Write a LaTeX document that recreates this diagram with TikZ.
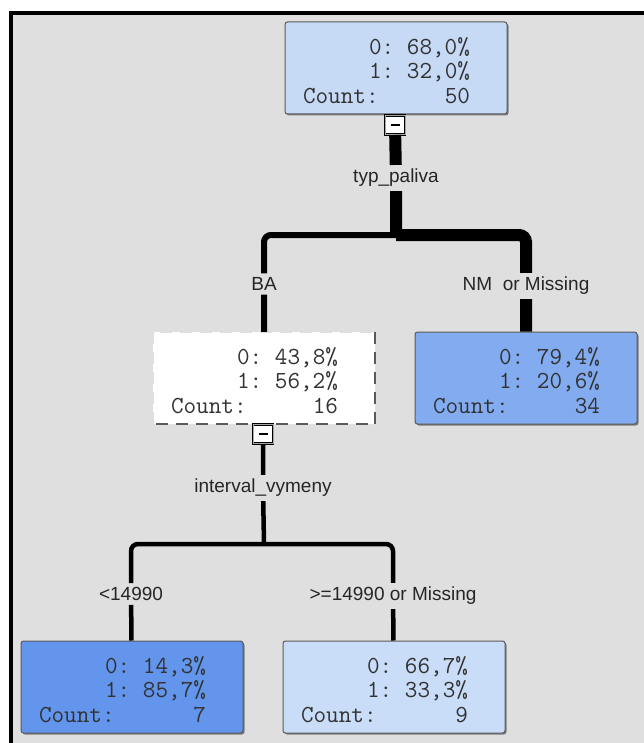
\documentclass[tikz,border=0pt]{standalone}
\usepackage{fontspec}
\newfontfamily\labelfont{Liberation Sans}
\usetikzlibrary{shadows}
\definecolor{panelgray}{RGB}{223,223,223}
\definecolor{rootblue}{RGB}{198,218,246}
\definecolor{midblue}{RGB}{131,171,240}
\definecolor{deepblue}{RGB}{99,149,236}
\definecolor{paleblue}{RGB}{201,221,248}
\definecolor{statgray}{RGB}{50,50,50}
\frenchspacing
\newcommand{\nodestats}[3]{\raisebox{-12pt}[0pt][0pt]{\begin{tabular}{@{}r@{}}0: #1\%\\1: #2\%\\\makebox[167pt]{Count:\hfill #3}\end{tabular}}\kern19pt\null}

\begin{document}
\begin{tikzpicture}[x=1pt,y=-1pt,
  statbox/.style={rectangle, rounded corners=2.5pt, minimum width=222pt, minimum height=92pt, inner sep=0pt, text=statgray, font=\ttfamily\fontsize{24.5}{24.5}\selectfont},
  leaf/.style={statbox, draw=black!65, line width=1pt, drop shadow={shadow xshift=1.5pt, shadow yshift=-1.5pt, fill=black!60, opacity=0.8}},
  toggle/.style={rectangle, draw=black, line width=1pt, fill=white, double=gray!70, double distance=0.8pt, minimum width=20pt, minimum height=19pt, inner sep=0pt},
  split/.style={font=\labelfont\fontsize{19}{19}\selectfont, text=black!85, inner xsep=2pt, inner ysep=4pt},
  branch/.style={line width=#1, rounded corners=7pt}]
\useasboundingbox (0,0) rectangle (644,743);
\fill[white] (0,0) rectangle (644,743);
\fill[panelgray] (11,13) rectangle (644,743);
\draw[line width=4pt] (11,745) -- (11,13) -- (646,13);

\node[leaf, fill=rootblue] (root) at (396,68) {\nodestats{68,0}{32,0}{50}};
\node[toggle] (rootbtn) at (395,125) {\rule{9pt}{1.6pt}};
\node[split] (lblfuel) at (396,178) {typ\_paliva};
\coordinate (jfuel) at (396,235);
\node[split] (lblba) at (264,284) {BA};
\node[split] (lblnm) at (526,286) {NM\ \ or Missing};

\node[statbox, fill=white] (ba) at (264,378) {\nodestats{43,8}{56,2}{16}};
\draw[panelgray, dash pattern=on 12pt off 8pt, line width=2pt] (ba.south west) -- (ba.north west) -- (ba.north east);
\draw[black!65, dash pattern=on 12pt off 8pt, line width=2pt] (ba.north east) -- (ba.south east) -- (ba.south west);
\node[leaf, fill=midblue] (nm) at (526,378) {\nodestats{79,4}{20,6}{34}};
\node[toggle] (babtn) at (263,434) {\rule{9pt}{1.6pt}};

\node[split] (lblint) at (263,488) {interval\_vymeny};
\coordinate (jint) at (264,544);
\node[split] (lbllo) at (131,594) {<14990};
\node[split] (lblhi) at (393,596) {>=14990 or Missing};
\node[leaf, fill=deepblue] (lo) at (132,687) {\nodestats{14,3}{85,7}{7}};
\node[leaf, fill=paleblue] (hi) at (394,687) {\nodestats{66,7}{33,3}{9}};

\draw[branch=12pt] (rootbtn) -- (lblfuel) -- (jfuel);
\draw[branch=12pt] (jfuel) -| (lblnm) -- (nm);
\draw[branch=6pt] (jfuel) -| (lblba) -- (ba);
\draw[branch=4.5pt] (babtn) -- (lblint) -- (jint);
\draw[branch=4.5pt] (jint) -| (lbllo) -- (lo);
\draw[branch=4.5pt] (jint) -| (lblhi) -- (hi);
\end{tikzpicture}
\end{document}
